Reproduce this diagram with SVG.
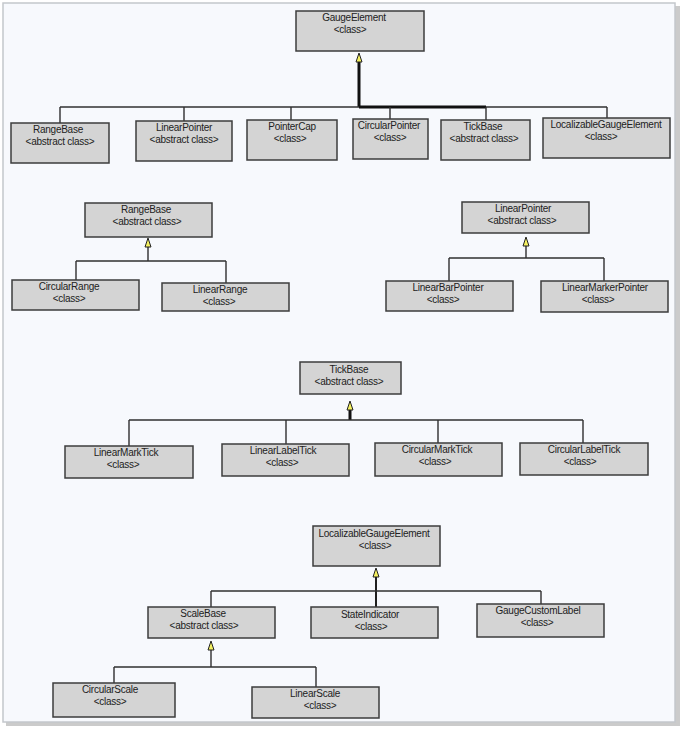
<svg xmlns="http://www.w3.org/2000/svg" width="682" height="729" viewBox="0 0 682 729">
<style>
.box{fill:#d4d4d4;stroke:#3c3c3c;stroke-width:1.5}
.t{font-family:"Liberation Sans",Arial,sans-serif;font-size:10px;fill:#222;text-anchor:middle;letter-spacing:-0.25px}
.ln{fill:none;stroke:#303030;stroke-width:1.4}
.thick{fill:none;stroke:#111;stroke-width:3}
.med{fill:none;stroke:#202020;stroke-width:2}
.ah{fill:#f4f060;stroke:#222;stroke-width:1;stroke-linejoin:miter}
</style>
<rect x="0" y="0" width="682" height="729" fill="#ffffff"/>
<rect x="6" y="6" width="674" height="720" fill="#a8a8a8" opacity="0.6"/>
<rect x="3" y="3" width="672" height="719" fill="#f7f9fd" stroke="#c4c7cc" stroke-width="1.5"/>

<g id="connectors">
  <!-- GaugeElement -->
  <path class="thick" d="M359 62V107"/>
  <path class="ln" d="M60 107H607"/>
  <path class="thick" d="M359 107H486"/>
  <path class="ln" d="M60 107V123M184 107V121M291 107V120M390 107V119M486 107V120M607 107V118"/>
  <polygon class="ah" points="359,53 356,62 362,62"/>
  <!-- RangeBase -->
  <path class="ln" d="M148 247V261M76 261H226M76 261V280M226 261V283"/>
  <polygon class="ah" points="148,238 145,247 151,247"/>
  <!-- LinearPointer -->
  <path class="ln" d="M526 246V258M449 258H604M449 258V281M604 258V281"/>
  <polygon class="ah" points="526,237 523,246 529,246"/>
  <!-- TickBase -->
  <path class="thick" d="M350 410V420"/>
  <path class="ln" d="M129 420H583M129 420V446M286 420V444M438 420V443M583 420V443"/>
  <polygon class="ah" points="350,401 347,410 353,410"/>
  <!-- LocalizableGaugeElement -->
  <path class="med" d="M376 577V607"/>
  <path class="ln" d="M211 591H541M211 591V607M541 591V604"/>
  <polygon class="ah" points="376,568 373,577 379,577"/>
  <!-- ScaleBase -->
  <path class="ln" d="M211 650V667M114 667H316M114 667V683M316 667V687"/>
  <polygon class="ah" points="211,641 208,650 214,650"/>
</g>

<g id="GaugeElement"><rect class="box" x="296" y="11" width="128" height="40"/><text class="t" x="354" y="21">GaugeElement</text><text class="t" x="350" y="33">&lt;class&gt;</text></g>
<g id="RangeBase"><rect class="box" x="11" y="123" width="98" height="40"/><text class="t" x="58" y="133">RangeBase</text><text class="t" x="60" y="145">&lt;abstract class&gt;</text></g>
<g id="LinearPointer"><rect class="box" x="136" y="121" width="96" height="40"/><text class="t" x="184" y="131">LinearPointer</text><text class="t" x="184" y="143">&lt;abstract class&gt;</text></g>
<g id="PointerCap"><rect class="box" x="247" y="120" width="90" height="40"/><text class="t" x="292" y="130">PointerCap</text><text class="t" x="290" y="142">&lt;class&gt;</text></g>
<g id="CircularPointer"><rect class="box" x="353" y="119" width="75" height="40"/><text class="t" x="389" y="129">CircularPointer</text><text class="t" x="390" y="141">&lt;class&gt;</text></g>
<g id="TickBase"><rect class="box" x="441" y="120" width="89" height="40"/><text class="t" x="483" y="130">TickBase</text><text class="t" x="484" y="142">&lt;abstract class&gt;</text></g>
<g id="LocalizableGaugeElement"><rect class="box" x="543" y="118" width="127" height="40"/><text class="t" x="606" y="128">LocalizableGaugeElement</text><text class="t" x="601" y="140">&lt;class&gt;</text></g>

<g id="RangeBase-detail"><rect class="box" x="85" y="203" width="127" height="34"/><text class="t" x="146" y="213">RangeBase</text><text class="t" x="147" y="225">&lt;abstract class&gt;</text></g>
<g id="CircularRange"><rect class="box" x="12" y="280" width="127" height="30"/><text class="t" x="69" y="290">CircularRange</text><text class="t" x="69" y="302">&lt;class&gt;</text></g>
<g id="LinearRange"><rect class="box" x="162" y="283" width="127" height="28"/><text class="t" x="220" y="293">LinearRange</text><text class="t" x="219" y="305">&lt;class&gt;</text></g>

<g id="LinearPointer-detail"><rect class="box" x="462" y="202" width="127" height="31"/><text class="t" x="523" y="212">LinearPointer</text><text class="t" x="522" y="224">&lt;abstract class&gt;</text></g>
<g id="LinearBarPointer"><rect class="box" x="386" y="281" width="127" height="30"/><text class="t" x="448" y="291">LinearBarPointer</text><text class="t" x="443" y="303">&lt;class&gt;</text></g>
<g id="LinearMarkerPointer"><rect class="box" x="541" y="281" width="127" height="31"/><text class="t" x="605" y="291">LinearMarkerPointer</text><text class="t" x="598" y="303">&lt;class&gt;</text></g>

<g id="TickBase-detail"><rect class="box" x="300" y="362" width="101" height="32"/><text class="t" x="349" y="373">TickBase</text><text class="t" x="349" y="385">&lt;abstract class&gt;</text></g>
<g id="LinearMarkTick"><rect class="box" x="65" y="446" width="128" height="32"/><text class="t" x="126" y="456">LinearMarkTick</text><text class="t" x="123" y="468">&lt;class&gt;</text></g>
<g id="LinearLabelTick"><rect class="box" x="222" y="444" width="127" height="32"/><text class="t" x="283" y="454">LinearLabelTick</text><text class="t" x="282" y="466">&lt;class&gt;</text></g>
<g id="CircularMarkTick"><rect class="box" x="375" y="443" width="127" height="33"/><text class="t" x="437" y="453">CircularMarkTick</text><text class="t" x="435" y="465">&lt;class&gt;</text></g>
<g id="CircularLabelTick"><rect class="box" x="520" y="443" width="128" height="32"/><text class="t" x="584" y="453">CircularLabelTick</text><text class="t" x="580" y="465">&lt;class&gt;</text></g>

<g id="LocalizableGaugeElement-detail"><rect class="box" x="313" y="526" width="127" height="40"/><text class="t" x="374" y="537">LocalizableGaugeElement</text><text class="t" x="375" y="549">&lt;class&gt;</text></g>
<g id="ScaleBase"><rect class="box" x="148" y="607" width="127" height="31"/><text class="t" x="203" y="617">ScaleBase</text><text class="t" x="204" y="629">&lt;abstract class&gt;</text></g>
<g id="StateIndicator"><rect class="box" x="311" y="607" width="127" height="31"/><text class="t" x="370" y="618">StateIndicator</text><text class="t" x="371" y="630">&lt;class&gt;</text></g>
<g id="GaugeCustomLabel"><rect class="box" x="477" y="604" width="127" height="33"/><text class="t" x="538" y="614">GaugeCustomLabel</text><text class="t" x="537" y="626">&lt;class&gt;</text></g>
<g id="CircularScale"><rect class="box" x="53" y="683" width="122" height="34"/><text class="t" x="110" y="693">CircularScale</text><text class="t" x="110" y="705">&lt;class&gt;</text></g>
<g id="LinearScale"><rect class="box" x="252" y="687" width="127" height="31"/><text class="t" x="315" y="697">LinearScale</text><text class="t" x="320" y="709">&lt;class&gt;</text></g>
</svg>
